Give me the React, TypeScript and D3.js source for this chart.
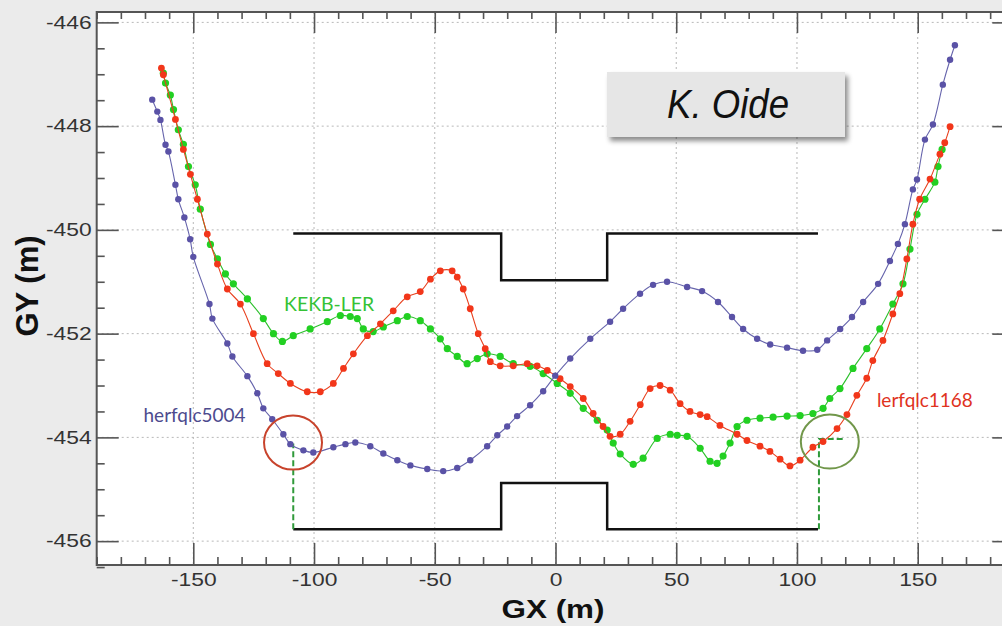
import React, { useEffect, useRef } from 'react';
import * as d3 from 'd3';

type Pt = [number, number];

// herfqlc5004 orbit (GX, GY) in m
const herPoints: Pt[] = [
  [-167.0, -447.49], [-164.9, -447.72], [-163.6, -447.88], [-161.5, -448.36], [-160.3, -448.49],
  [-157.4, -449.13], [-156.2, -449.41], [-153.7, -449.76], [-151.3, -450.18], [-150.0, -450.52],
  [-143.3, -451.43], [-142.1, -451.71], [-135.9, -452.19], [-133.8, -452.44], [-127.6, -452.82],
  [-123.5, -453.15], [-121.0, -453.44], [-117.3, -453.65], [-112.7, -453.94], [-109.8, -454.13],
  [-104.4, -454.25], [-100.3, -454.29], [-92.0, -454.19], [-87.0, -454.13], [-82.9, -454.1],
  [-76.7, -454.17], [-71.3, -454.31], [-65.5, -454.44], [-60.1, -454.54], [-53.1, -454.61],
  [-46.5, -454.65], [-40.7, -454.59], [-35.3, -454.44], [-28.3, -454.17], [-24.1, -453.96],
  [-20.0, -453.79], [-15.9, -453.59], [-10.5, -453.38], [-5.1, -453.11], [-0.1, -452.81],
  [6.1, -452.48], [14.4, -452.1], [22.6, -451.77], [28.0, -451.52], [35.0, -451.23],
  [40.4, -451.06], [46.2, -451.0], [54.5, -451.1], [60.7, -451.18], [67.3, -451.39],
  [73.1, -451.68], [77.7, -451.91], [83.5, -452.1], [88.9, -452.21], [95.9, -452.27],
  [102.5, -452.33], [108.4, -452.31], [112.5, -452.13], [117.9, -451.91], [122.8, -451.68],
  [127.4, -451.39], [133.6, -451.04], [138.5, -450.6], [141.8, -450.27], [144.7, -449.89],
  [148.0, -449.22], [149.7, -449.03], [153.0, -448.26], [156.3, -447.97], [160.4, -447.2],
  [163.4, -446.72], [165.4, -446.44]
];

// lerfqlc1168 orbit
const lerPoints: Pt[] = [
  [-163.2, -446.88], [-162.4, -447.01], [-157.4, -447.87], [-154.1, -448.45], [-151.2, -448.93],
  [-148.3, -449.41], [-144.2, -450.08], [-140.0, -450.66], [-135.9, -451.14], [-130.5, -451.43],
  [-125.1, -452.0], [-119.4, -452.58], [-114.8, -452.77], [-109.8, -452.96], [-102.8, -453.12],
  [-97.4, -453.12], [-92.0, -452.96], [-87.8, -452.67], [-83.7, -452.39], [-77.9, -452.04],
  [-72.5, -451.81], [-67.2, -451.56], [-61.4, -451.29], [-56.0, -451.19], [-51.8, -450.95],
  [-47.7, -450.79], [-42.8, -450.79], [-40.7, -450.91], [-38.2, -451.14], [-35.3, -451.52],
  [-32.0, -452.0], [-29.1, -452.29], [-27.0, -452.54], [-22.9, -452.62], [-17.5, -452.62],
  [-11.7, -452.58], [-7.6, -452.62], [-3.4, -452.71], [1.9, -452.87], [6.1, -453.02],
  [11.5, -453.25], [15.6, -453.54], [19.7, -453.79], [22.6, -453.98], [26.8, -453.94],
  [30.9, -453.69], [35.1, -453.37], [39.2, -453.06], [43.3, -453.0], [47.5, -453.09],
  [51.6, -453.35], [55.7, -453.5], [59.9, -453.56], [62.8, -453.6], [68.1, -453.77],
  [75.2, -453.94], [79.3, -454.06], [84.7, -454.17], [88.8, -454.27], [93.0, -454.42],
  [97.1, -454.55], [101.3, -454.44], [106.6, -454.19], [110.8, -454.08], [116.6, -453.83],
  [120.7, -453.56], [124.8, -453.19], [128.9, -452.86], [131.4, -452.52], [135.6, -452.13],
  [139.7, -451.62], [142.6, -451.23], [145.5, -450.56], [148.0, -449.89], [150.8, -449.41],
  [155.1, -449.02], [159.2, -448.54], [161.2, -448.32], [163.4, -448.01]
];

// KEKB-LER orbit
const kekbPoints: Pt[] = [
  [-162.4, -446.98], [-161.5, -447.17], [-159.5, -447.4], [-158.2, -447.68], [-156.2, -448.07],
  [-154.1, -448.35], [-152.0, -448.78], [-149.2, -449.13], [-147.1, -449.6], [-142.9, -450.28],
  [-140.0, -450.56], [-136.7, -450.85], [-133.4, -451.04], [-127.6, -451.33], [-121.0, -451.71],
  [-116.8, -452.0], [-113.1, -452.15], [-108.6, -452.04], [-101.6, -451.91], [-94.5, -451.77],
  [-89.1, -451.65], [-85.0, -451.67], [-82.1, -451.71], [-79.6, -451.91], [-75.5, -451.96],
  [-71.3, -451.87], [-65.5, -451.75], [-61.4, -451.67], [-56.0, -451.75], [-51.8, -451.91],
  [-47.7, -452.1], [-44.8, -452.29], [-40.7, -452.44], [-36.6, -452.58], [-32.4, -452.48],
  [-28.3, -452.39], [-22.9, -452.44], [-17.5, -452.58], [-10.5, -452.63], [-5.1, -452.77],
  [0.7, -452.96], [6.1, -453.15], [11.5, -453.44], [17.3, -453.67], [21.4, -453.86],
  [23.9, -454.11], [26.8, -454.32], [32.2, -454.52], [36.3, -454.4], [42.1, -454.02],
  [47.5, -453.94], [50.4, -453.96], [54.5, -453.98], [59.9, -454.21], [64.0, -454.46],
  [66.9, -454.5], [69.4, -454.36], [72.3, -454.11], [75.2, -453.79], [79.3, -453.67],
  [84.7, -453.63], [90.1, -453.61], [95.9, -453.59], [101.3, -453.58], [106.6, -453.54],
  [110.8, -453.44], [113.6, -453.25], [117.8, -453.06], [123.2, -452.67], [128.9, -452.29],
  [134.3, -451.91], [139.7, -451.43], [143.9, -451.04], [146.8, -450.37], [149.7, -449.7],
  [153.0, -449.41], [157.1, -449.08], [158.4, -448.78], [160.1, -448.45]
];

// tunnel outline
const outlineTop: Pt[] = [
  [-108.6, -450.07], [-22.5, -450.07], [-22.5, -450.97], [21.4, -450.97], [21.4, -450.07], [108.7, -450.07]
];
const outlineBottom: Pt[] = [
  [-108.6, -455.77], [-22.5, -455.77], [-22.5, -454.88], [21.4, -454.88], [21.4, -455.77], [108.7, -455.77]
];
const dashLeft: Pt[] = [[-108.6, -455.77], [-108.6, -454.12]];
const dashRight: Pt[] = [[109.1, -455.77], [109.1, -454.03], [119.0, -454.03]];

const redMark: Pt = [-108.7, -454.1];
const greenMark: Pt = [113.6, -454.08];

const xMajor = [-150, -100, -50, 0, 50, 100, 150];
const yMajor = [-456, -454, -452, -450, -448, -446];
const xMinor = d3.range(-190, 191, 10).filter(v => v % 50 !== 0);
const yMinor = d3.range(-456.5, -445.7, 0.5).filter(v => v % 2 !== 0);

const width = 1002,
  height = 626;

export default function App() {
  const ref = useRef<SVGSVGElement>(null);

  useEffect(() => {
    const svg = d3.select(ref.current);
    svg.selectAll('*').remove();

    const x = d3.scaleLinear().domain([-190, 190]).range([96.7, 1014.3]);
    const y = d3.scaleLinear().domain([-456.46, -445.8]).range([565, 12]);
    const [x0, x1] = x.range();
    const [y0, y1] = y.range();

    const defs = svg.append('defs');
    const shadow = defs.append('filter').attr('id', 'shadow').attr('x', '-10%').attr('y', '-20%').attr('width', '130%').attr('height', '160%');
    shadow
      .append('feDropShadow')
      .attr('dx', 3)
      .attr('dy', 4)
      .attr('stdDeviation', 2.5)
      .attr('flood-color', '#000')
      .attr('flood-opacity', 0.45);
    defs
      .append('clipPath')
      .attr('id', 'plot')
      .append('rect')
      .attr('x', x0)
      .attr('y', y1)
      .attr('width', x1 - x0)
      .attr('height', y0 - y1);

    svg.append('rect').attr('width', width).attr('height', height).attr('fill', '#ebebeb');
    svg
      .append('rect')
      .attr('x', x0)
      .attr('y', y1)
      .attr('width', x1 - x0)
      .attr('height', y0 - y1)
      .attr('fill', '#fff');

    // dotted grid
    const grid = svg.append('g').attr('stroke', '#b8b8b8').attr('stroke-width', 1).attr('stroke-dasharray', '2,3');
    grid
      .selectAll('.gx')
      .data(xMajor)
      .enter()
      .append('line')
      .attr('x1', d => x(d))
      .attr('x2', d => x(d))
      .attr('y1', y1)
      .attr('y2', y0);
    grid
      .selectAll('.gy')
      .data(yMajor)
      .enter()
      .append('line')
      .attr('y1', d => y(d))
      .attr('y2', d => y(d))
      .attr('x1', x0)
      .attr('x2', x1);

    const plot = svg.append('g').attr('clip-path', 'url(#plot)');
    const poly = d3
      .line<Pt>()
      .x(d => x(d[0]))
      .y(d => y(d[1]));

    plot.append('path').attr('d', poly(outlineTop)).attr('fill', 'none').attr('stroke', '#111').attr('stroke-width', 2.5);
    plot.append('path').attr('d', poly(outlineBottom)).attr('fill', 'none').attr('stroke', '#111').attr('stroke-width', 2.5);
    [dashLeft, dashRight].forEach(d =>
      plot
        .append('path')
        .attr('d', poly(d))
        .attr('fill', 'none')
        .attr('stroke', '#2f9a3a')
        .attr('stroke-width', 2)
        .attr('stroke-dasharray', '6,3')
    );

    const smooth = d3
      .line<Pt>()
      .x(d => x(d[0]))
      .y(d => y(d[1]))
      .curve(d3.curveCatmullRom.alpha(0.5));

    const series = [
      { pts: kekbPoints, line: '#2cc02c', dot: '#22d022', r: 3.6 },
      { pts: lerPoints, line: '#e8401e', dot: '#f2361a', r: 3.4 },
      { pts: herPoints, line: '#6664ac', dot: '#5a52a6', r: 3.2 }
    ];
    series.forEach(s => {
      plot.append('path').attr('d', smooth(s.pts)).attr('fill', 'none').attr('stroke', s.line).attr('stroke-width', 1.1);
      plot
        .append('g')
        .selectAll('circle')
        .data(s.pts)
        .enter()
        .append('circle')
        .attr('cx', d => x(d[0]))
        .attr('cy', d => y(d[1]))
        .attr('r', s.r)
        .attr('fill', s.dot);
    });

    // highlight circles
    plot
      .append('ellipse')
      .attr('cx', x(redMark[0]))
      .attr('cy', y(redMark[1]))
      .attr('rx', 29)
      .attr('ry', 27)
      .attr('fill', 'none')
      .attr('stroke', '#c8432c')
      .attr('stroke-width', 2);
    plot
      .append('ellipse')
      .attr('cx', x(greenMark[0]))
      .attr('cy', y(greenMark[1]))
      .attr('rx', 29)
      .attr('ry', 27)
      .attr('fill', 'none')
      .attr('stroke', '#71974a')
      .attr('stroke-width', 2);

    // series labels
    const labels = [
      { text: 'KEKB-LER', gx: -112.4, gy: -451.56, len: 90, color: '#35c235' },
      { text: 'herfqlc5004', gx: -170.6, gy: -453.7, len: 102, color: '#4d4b8e' },
      { text: 'lerfqlc1168', gx: 133.1, gy: -453.41, len: 96, color: '#e0321e' }
    ];
    labels.forEach(l =>
      svg
        .append('text')
        .attr('x', x(l.gx))
        .attr('y', y(l.gy))
        .attr('textLength', l.len)
        .attr('lengthAdjust', 'spacingAndGlyphs')
        .attr('font-family', 'Lato, "Open Sans", sans-serif')
        .attr('font-size', 19)
        .attr('fill', l.color)
        .text(l.text)
    );

    // axes
    const styleAxis = (g, labels) => {
      g.select('.domain').remove();
      g.selectAll('line').attr('stroke', '#555').attr('stroke-width', 1.6);
      if (labels) {
        g.selectAll('text')
          .attr('font-family', '"Liberation Sans", Arial, sans-serif')
          .attr('font-size', 18)
          .attr('fill', '#333')
          .attr('transform', 'scale(1.27,1)');
      }
    };
    const fmt = d => String(d);
    svg
      .append('g')
      .attr('transform', `translate(0,${y0})`)
      .call(d3.axisBottom(x).tickValues(xMajor).tickSize(-22).tickPadding(8).tickFormat(fmt))
      .call(g => styleAxis(g, true));
    svg
      .append('g')
      .attr('transform', `translate(0,${y0})`)
      .call(d3.axisBottom(x).tickValues(xMinor).tickSize(-8).tickFormat(() => ''))
      .call(g => styleAxis(g, false));
    svg
      .append('g')
      .attr('transform', `translate(0,${y1})`)
      .call(d3.axisTop(x).tickValues(xMajor).tickSize(-21).tickFormat(() => ''))
      .call(g => styleAxis(g, false));
    svg
      .append('g')
      .attr('transform', `translate(0,${y1})`)
      .call(d3.axisTop(x).tickValues(xMinor).tickSize(-7).tickFormat(() => ''))
      .call(g => styleAxis(g, false));
    svg
      .append('g')
      .attr('transform', `translate(${x0},0)`)
      .call(d3.axisLeft(y).tickValues(yMajor).tickSize(-22).tickPadding(4).tickFormat(fmt))
      .call(g => styleAxis(g, true));
    svg
      .append('g')
      .attr('transform', `translate(${x0},0)`)
      .call(d3.axisLeft(y).tickValues(yMinor).tickSize(-8).tickFormat(() => ''))
      .call(g => styleAxis(g, false));
    svg
      .append('g')
      .attr('transform', `translate(${x1},0)`)
      .call(d3.axisRight(y).tickValues(yMajor).tickSize(-22).tickFormat(() => ''))
      .call(g => styleAxis(g, false));
    svg
      .append('g')
      .attr('transform', `translate(${x1},0)`)
      .call(d3.axisRight(y).tickValues(yMinor).tickSize(-8).tickFormat(() => ''))
      .call(g => styleAxis(g, false));

    svg
      .append('rect')
      .attr('x', x0)
      .attr('y', y1)
      .attr('width', x1 - x0)
      .attr('height', y0 - y1)
      .attr('fill', 'none')
      .attr('stroke', '#555')
      .attr('stroke-width', 2);

    // axis titles
    svg
      .append('text')
      .attr('x', 553)
      .attr('y', 618)
      .attr('text-anchor', 'middle')
      .attr('textLength', 103)
      .attr('lengthAdjust', 'spacingAndGlyphs')
      .attr('font-family', '"Liberation Sans", Arial, sans-serif')
      .attr('font-weight', 'bold')
      .attr('font-size', 25)
      .attr('fill', '#111')
      .text('GX (m)');
    svg
      .append('text')
      .attr('transform', 'translate(38,286) rotate(-90)')
      .attr('text-anchor', 'middle')
      .attr('font-family', '"Liberation Sans", Arial, sans-serif')
      .attr('font-weight', 'bold')
      .attr('font-size', 31)
      .attr('fill', '#111')
      .text('GY (m)');

    // author box
    svg
      .append('rect')
      .attr('x', 607)
      .attr('y', 72)
      .attr('width', 238)
      .attr('height', 65)
      .attr('fill', '#e6e6e6')
      .attr('filter', 'url(#shadow)');
    svg
      .append('text')
      .attr('x', 667)
      .attr('y', 118)
      .attr('textLength', 122)
      .attr('lengthAdjust', 'spacingAndGlyphs')
      .attr('font-family', '"Liberation Sans", Arial, sans-serif')
      .attr('font-style', 'italic')
      .attr('font-size', 40)
      .attr('fill', '#111')
      .text('K. Oide');
  }, []);

  return <svg ref={ref} width={width} height={height} style={{ position: 'absolute', left: 0, top: 0 }} />;
}
